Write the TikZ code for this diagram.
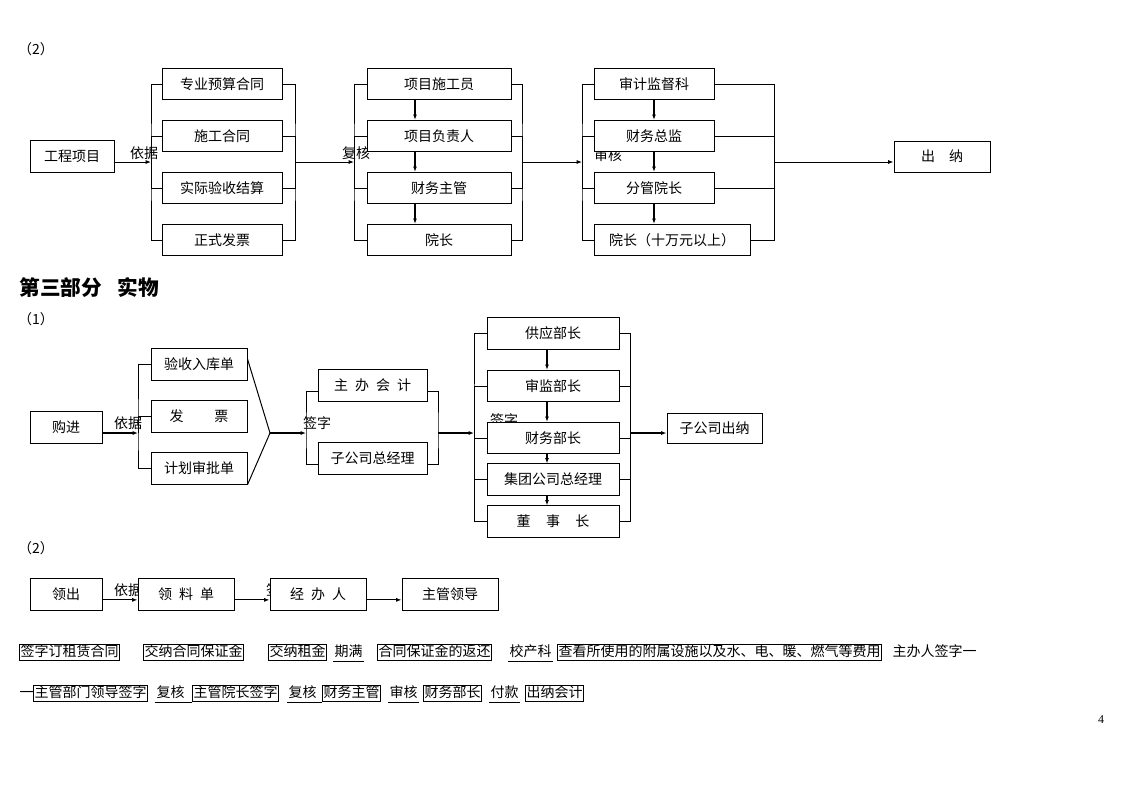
\documentclass[tikz,border=0pt]{standalone}
\usepackage{fontspec}
\setmainfont{Noto Sans CJK SC}
\newfontfamily\numfont{Liberation Serif}
\usetikzlibrary{arrows.meta}
\tikzset{
	box/.style={draw, fill=white, inner sep=0pt, minimum height=23.5pt, font=\fontsize{10.5}{12}\selectfont},
	lbl/.style={inner sep=0pt, font=\fontsize{10.5}{12}\selectfont},
	tag/.style={draw, anchor=west, inner xsep=0.75pt, inner ysep=1pt, text height=8.5pt, text depth=2pt, font=\fontsize{10.5}{12}\selectfont},
	utext/.style={anchor=west, inner xsep=0.75pt, inner ysep=1pt, text height=8.5pt, text depth=2pt, font=\fontsize{10.5}{12}\selectfont},
	arr/.style={-{Latex[length=4pt,width=3pt]}},
	thk/.style={line width=1.5pt}
}

\begin{document}
\begin{tikzpicture}[x=0.75pt, y=-0.75pt, line width=0.75pt]
			\useasboundingbox (0,0) rectangle (1123,794);
			%%%%% PART (2) %%%%%
			
			\node[lbl] (n2a) at (36,49) {（2）};
			\node[lbl] (yj1) at (144,153.5) {依据};
			\node[lbl] (fh0) at (356,153.5) {复核};
			\node[lbl] (sh0) at (608,155) {审核};
			
			\node[box, minimum width=63pt] (gcxm) at (72,156.5) {工程项目};
			
			\node[box, minimum width=90pt] (zyys) at (222,84) {专业预算合同};
			\node[box, minimum width=90pt] (sght) at (222,136) {施工合同};
			\node[box, minimum width=90pt] (sjys) at (222,188) {实际验收结算};
			\node[box, minimum width=90pt] (zsfp) at (222,240) {正式发票};
			
			\node[box, minimum width=108pt] (xmsg) at (439,84) {项目施工员};
			\node[box, minimum width=108pt] (xmfz) at (439,136) {项目负责人};
			\node[box, minimum width=108pt] (cwzg) at (439,188) {财务主管};
			\node[box, minimum width=108pt] (yz) at (439,240) {院长};
			
			\node[box, minimum width=90pt] (sjjd) at (654,84) {审计监督科};
			\node[box, minimum width=90pt] (cwzj) at (654,136) {财务总监};
			\node[box, minimum width=90pt] (fgyz) at (654,188) {分管院长};
			\node[box, minimum width=117pt] (yzsw) at (672,240) {院长（十万元以上）};
			
			\node[box, minimum width=72pt, minimum height=23.25pt] (cn) at (942,156.5) {出\quad 纳};
			
			\coordinate (b1l) at (151,162);
			\coordinate (b1r) at (295,162);
			\coordinate (b2l) at (354,162);
			\coordinate (b2r) at (522,162);
			\coordinate (b3l) at (582,162);
			\coordinate (b3r) at (774,162);
			
			\draw[arr] (gcxm.east |- b1l) -- (b1l);
			\draw (zyys.west) -| (b1l) |- (zsfp.west);
			\draw (sght.west) -| (b1l);
			\draw (sjys.west) -| (b1l);
			\draw (zyys.east) -| (b1r) |- (zsfp.east);
			\draw (sght.east) -| (b1r);
			\draw (sjys.east) -| (b1r);
			
			\draw[arr] (b1r) -- (b2l);
			\draw (xmsg.west) -| (b2l) |- (yz.west);
			\draw (xmfz.west) -| (b2l);
			\draw (cwzg.west) -| (b2l);
			\draw (xmsg.east) -| (b2r) |- (yz.east);
			\draw (xmfz.east) -| (b2r);
			\draw (cwzg.east) -| (b2r);
			\draw[thk, arr] ([xshift=-18pt]xmsg.south) -- ([xshift=-18pt]xmfz.north);
			\draw[thk, arr] ([xshift=-18pt]xmfz.south) -- ([xshift=-18pt]cwzg.north);
			\draw[thk, arr] ([xshift=-18pt]cwzg.south) -- ([xshift=-18pt]yz.north);
			
			\draw[arr] (b2r) -- (b3l);
			\draw (sjjd.west) -| (b3l) |- (yzsw.west);
			\draw (cwzj.west) -| (b3l);
			\draw (fgyz.west) -| (b3l);
			\draw (sjjd.east) -| (b3r) |- (yzsw.east);
			\draw (cwzj.east) -| (b3r);
			\draw (fgyz.east) -| (b3r);
			\draw[thk, arr] (sjjd.south) -- (cwzj.north);
			\draw[thk, arr] (cwzj.south) -- (fgyz.north);
			\draw[thk, arr] (fgyz.south) -- (fgyz.south |- yzsw.north);
			
			\draw[arr] (b3r) -- (cn.west |- b3r);
			
			%%%%% PART THREE (1) %%%%%
			
			\node[anchor=west, inner sep=0pt, font=\fontsize{15.5}{18}\selectfont\bfseries] (dsbf) at (19,288) {第三部分\hspace{0.75em}实物};
			\node[lbl] (n1) at (36,319) {（1）};
			\node[lbl] (yj2) at (128,423) {依据};
			\node[lbl] (qz1) at (317,423) {签字};
			\node[lbl] (qz2) at (504,420) {签字};
			
			\node[box, minimum width=54pt] (gj) at (66,427.5) {购进};
			
			\node[box, minimum width=72pt] (ysrk) at (199,364.5) {验收入库单};
			\node[box, minimum width=72pt] (fp) at (199,416.5) {发\hspace{2.2em}票};
			\node[box, minimum width=72pt] (jhsp) at (199,468.5) {计划审批单};
			
			\node[box, minimum width=81.75pt] (zbkj) at (372.5,385.5) {主\enspace 办\enspace 会\enspace 计};
			\node[box, minimum width=81.75pt] (zgszjl) at (372.5,458.5) {子公司总经理};
			
			\node[box, minimum width=99pt] (gybz) at (553,333.5) {供应部长};
			\node[box, minimum width=99pt] (sjbz) at (553,386) {审监部长};
			\node[box, minimum width=99pt] (cwbz) at (553,438) {财务部长};
			\node[box, minimum width=99pt] (jtzjl) at (553,479.5) {集团公司总经理};
			\node[box, minimum width=99pt] (dsz) at (553,521.5) {董\hspace{1.1em}事\hspace{1.1em}长};
			
			\node[box, minimum width=71.25pt, minimum height=22.5pt] (zgscn) at (714.5,428) {子公司出纳};
			
			\coordinate (b4l) at (138,433);
			\coordinate (m4) at (270,433);
			\coordinate (b5l) at (306,433);
			\coordinate (b5r) at (438,433);
			\coordinate (b6l) at (474,433);
			\coordinate (b6r) at (630,433);
			
			\draw[thk, arr] (gj.east |- b4l) -- (b4l);
			\draw (ysrk.west) -| (b4l) |- (jhsp.west);
			\draw (fp.west) -| (b4l);
			\draw ([yshift=-8pt]ysrk.north east) -- (m4) -- (jhsp.south east);
			
			\draw[thk, arr] (m4) -- (b5l);
			\draw ([yshift=-4.5pt]zbkj.west) -| (b5l) |- ([yshift=-4.5pt]zgszjl.west);
			\draw ([yshift=-4.5pt]zbkj.east) -| (b5r) |- ([yshift=-4.5pt]zgszjl.east);
			
			\draw[thk, arr] (b5r) -- (b6l);
			\draw (gybz.west) -| (b6l) |- (dsz.west);
			\draw (sjbz.west) -| (b6l);
			\draw (cwbz.west) -| (b6l);
			\draw (jtzjl.west) -| (b6l);
			\draw (gybz.east) -| (b6r) |- (dsz.east);
			\draw (sjbz.east) -| (b6r);
			\draw (cwbz.east) -| (b6r);
			\draw (jtzjl.east) -| (b6r);
			\draw[thk, arr] ([xshift=-4.5pt]gybz.south) -- ([xshift=-4.5pt]sjbz.north);
			\draw[thk, arr] ([xshift=-4.5pt]sjbz.south) -- ([xshift=-4.5pt]cwbz.north);
			\draw[thk, arr] ([xshift=-4.5pt]cwbz.south) -- ([xshift=-4.5pt]jtzjl.north);
			\draw[thk, arr] ([xshift=-4.5pt]jtzjl.south) -- ([xshift=-4.5pt]dsz.north);
			
			\draw[thk, arr] (b6r) -- (zgscn.west |- b6r);
			
			%%%%% PART THREE (2) %%%%%
			
			\node[lbl] (n2b) at (36,548) {（2）};
			\node[lbl] (yj3) at (128,590) {依据};
			\node[lbl] (qz3) at (280,590) {签字};
			
			\node[box, minimum width=54pt] (lc) at (66,594.5) {领出};
			\node[box, minimum width=72pt] (llb) at (186,594.5) {领\enspace 料\enspace 单};
			\node[box, minimum width=72pt] (jbr) at (318,594.5) {经\enspace 办\enspace 人};
			\node[box, minimum width=72pt] (zgld) at (450,594.5) {主管领导};
			
			\draw[arr] ([yshift=-4pt]lc.east) -- ([yshift=-4pt]llb.west);
			\draw[arr] ([yshift=-4pt]llb.east) -- ([yshift=-4pt]jbr.west);
			\draw[arr] ([yshift=-4pt]jbr.east) -- ([yshift=-4pt]zgld.west);
			
			%%%%% TEXT LINES %%%%%
			
			\node[tag] (t1) at (19,652.5) {签字订租赁合同};
			\node[tag] (t2) at (143,652.5) {交纳合同保证金};
			\node[tag] (t3) at (268,652.5) {交纳租金};
			\node[utext] (qm) at (333,652.5) {期满};
			\node[tag] (t4) at (377,652.5) {合同保证金的返还};
			\node[utext] (xck) at (508,652.5) {校产科};
			\node[tag] (t5) at (557,652.5) {查看所使用的附属设施以及水、电、暖、燃气等费用};
			\node[utext] (zbr) at (891,652.5) {主办人签字一};
			
			\node[utext] (yi) at (18,693.5) {一};
			\node[tag] (t6) at (33,693.5) {主管部门领导签字};
			\node[utext] (fh1) at (155,693.5) {复核};
			\node[tag] (t7) at (192,693.5) {主管院长签字};
			\node[utext] (fh2) at (287,693.5) {复核};
			\node[tag] (t8) at (322,693.5) {财务主管};
			\node[utext] (sh2) at (388,693.5) {审核};
			\node[tag] (t9) at (423,693.5) {财务部长};
			\node[utext] (fk) at (489,693.5) {付款};
			\node[tag] (t10) at (525,693.5) {出纳会计};
			
			\foreach \n in {qm,xck,sh2,fk}
				\draw (\n.south west) -- (\n.south east);
			\draw (fh1.south west) -- (fh1.south west -| t7.west);
			\draw (fh2.south west) -- (fh2.south west -| t8.west);
			
			\node[inner sep=0pt, font=\numfont\fontsize{9}{10}\selectfont] (pg) at (1101,720) {4};
\end{tikzpicture}
\end{document}
